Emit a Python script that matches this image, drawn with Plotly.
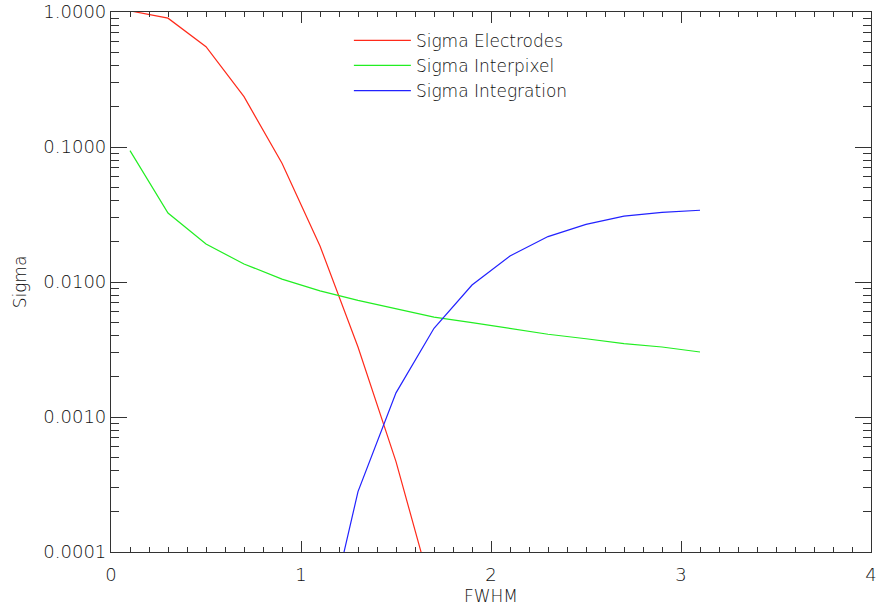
import plotly.graph_objects as go

fwhm = [0.1, 0.3, 0.5, 0.7, 0.9, 1.1, 1.3, 1.5, 1.7, 1.9, 2.1, 2.3, 2.5, 2.7, 2.9, 3.1]
sigma_electrodes = [1.02, 0.90, 0.553, 0.236, 0.0757, 0.0185, 0.0033, 0.000467, 0.000045]
sigma_interpixel = [0.094, 0.0324, 0.0191, 0.0136, 0.0105, 0.0086, 0.0073, 0.0063, 0.0055,
                    0.0050, 0.0045, 0.0041, 0.0038, 0.0035, 0.0033, 0.00303]
fwhm_integration = [1.1, 1.3, 1.5, 1.7, 1.9, 2.1, 2.3, 2.5, 2.7, 2.9, 3.1]
sigma_integration = [0.000017, 0.00028, 0.00151, 0.00454, 0.0095, 0.0156, 0.0217, 0.0267,
                     0.0308, 0.0328, 0.0340]

y_tickvals = [0.0001, 0.001, 0.01, 0.1, 1.0]
y_ticktext = ["0.0001", "0.0010", "0.0100", "0.1000", "1.0000"]
y_minor_vals = [m * 10.0 ** e for e in range(-4, 0) for m in range(2, 10)]
x_tickvals = [0, 1, 2, 3, 4]

FONT = "DejaVu Sans"
W = 200
AX = "#333333"
TXT = "#111111"

fig = go.Figure()
fig.add_trace(go.Scatter(x=fwhm[:len(sigma_electrodes)], y=sigma_electrodes, mode="lines",
                         name="Sigma Electrodes", line=dict(color="#ff2a1a", width=1.2)))
fig.add_trace(go.Scatter(x=fwhm, y=sigma_interpixel, mode="lines",
                         name="Sigma Interpixel", line=dict(color="#22ee22", width=1.2)))
fig.add_trace(go.Scatter(x=fwhm_integration, y=sigma_integration, mode="lines",
                         name="Sigma Integration", line=dict(color="#2222ff", width=1.2)))

fig.update_layout(
    width=877, height=609,
    margin=dict(l=111, r=6, t=12, b=57),
    plot_bgcolor="white", paper_bgcolor="white",
    font=dict(family=FONT, size=17, color=TXT, weight=W),
    showlegend=True,
    legend=dict(x=0.313, y=0.98, xanchor="left", yanchor="top",
                bgcolor="rgba(0,0,0,0)",
                font=dict(size=17, family=FONT, color=TXT, weight=W),
                itemwidth=57, tracegroupgap=0),
    xaxis=dict(range=[0, 4], tickvals=x_tickvals, ticks="inside", ticklen=11,
               tickcolor=AX, showline=True, linecolor=AX, linewidth=1.2, mirror="allticks",
               showgrid=False, zeroline=False, automargin=False, ticklabelstandoff=6,
               minor=dict(ticks="inside", ticklen=5, dtick=0.1, tickcolor=AX, showgrid=False),
               title=dict(text="FWHM", font=dict(size=17, weight=W), standoff=6),
               tickfont=dict(size=18, weight=W)),
    yaxis=dict(type="log", range=[-4, 0], tickvals=y_tickvals, ticktext=y_ticktext,
               ticks="inside", ticklen=16, tickcolor=AX, showline=True, linecolor=AX,
               linewidth=1.2, mirror="allticks", showgrid=False, zeroline=False,
               automargin=False,
               minor=dict(ticks="inside", ticklen=8, tickvals=y_minor_vals, tickcolor=AX,
                          showgrid=False),
               title=dict(text="Sigma", font=dict(size=17, weight=W), standoff=12),
               tickfont=dict(size=18, weight=W)),
)

fig.write_html("out.html", config={"displayModeBar": False},
               post_script="document.body.style.margin='0';")
